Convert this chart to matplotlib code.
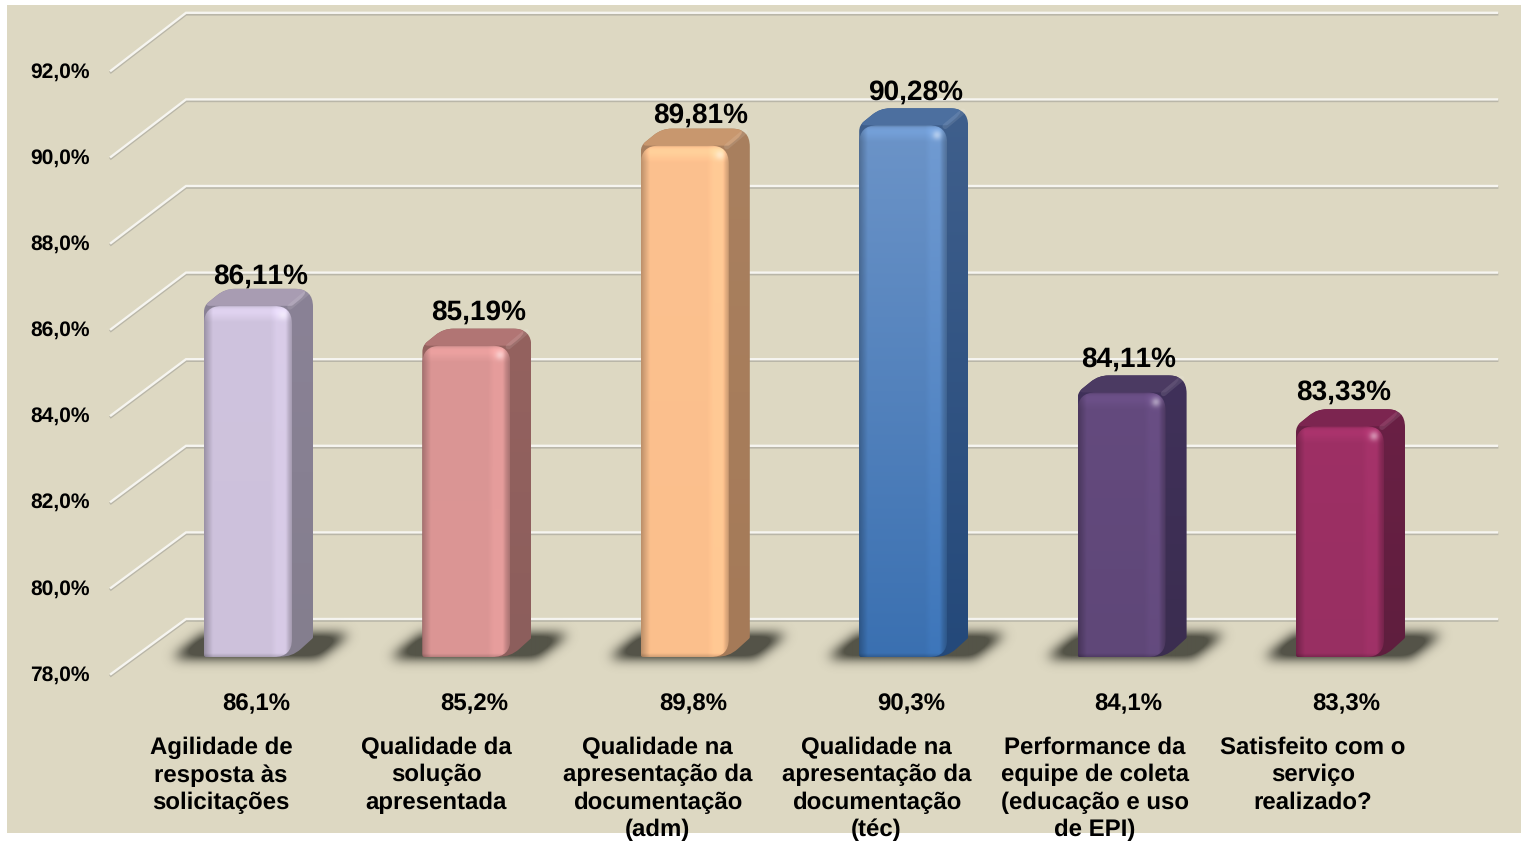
import numpy as np
import matplotlib
matplotlib.use("Agg")
import matplotlib.pyplot as plt
from matplotlib.path import Path
from matplotlib.patches import PathPatch, Rectangle
from matplotlib.colors import to_rgb

# ---- data ----
categories = [
    "Agilidade de\nresposta às\nsolicitações",
    "Qualidade da\nsolução\napresentada",
    "Qualidade na\napresentação da\ndocumentação\n(adm)",
    "Qualidade na\napresentação da\ndocumentação\n(téc)",
    "Performance da\nequipe de coleta\n(educação e uso\nde EPI)",
    "Satisfeito com o\nserviço\nrealizado?",
]
values = [86.11, 85.19, 89.81, 90.28, 84.11, 83.33]
y_ticks = [78, 80, 82, 84, 86, 88, 90, 92]

# ---- style ----
front_top = ["#CFC3DE", "#DA9594", "#FCC18F", "#6C94C8", "#644A7E", "#9E3065"]
front_bot = ["#CDC1DB", "#DC9695", "#FBBF8C", "#3A70B1", "#5F4778", "#982F62"]
side_top = ["#8A8296", "#94625F", "#A9805F", "#3F5F8C", "#40315A", "#6A2045"]
side_bot = ["#847E8E", "#8C5E5C", "#A57A58", "#24497A", "#3B2D50", "#5F1E3E"]
top_col = ["#A89CB2", "#B17574", "#C8976E", "#4C6F9F", "#4B3A62", "#7C2550"]
BG = "#DDD8C2"
FONT = "Liberation Sans"
plt.rcParams["text.hinting"] = "no_hinting"
plt.rcParams["text.hinting_factor"] = 1
plt.rcParams["text.kerning_factor"] = 6

W, H = 1521, 841
BAR_W, DEP_X, DEP_Y = 88, 21, 17
PITCH, CX0 = 218.4, 248.0
PXU, Y0PX = 43.3, 657.0   # pixels per percent point, pixel row of 78 %

# label placement, in pixels
top_dx = [13, 12, 16, 12, 7, 4]
top_dy = [29.4, 33.3, 30.2, 32.9, 33.0, 33.8]
low_dx = [8, 8, 8, 8, 7, 6]
cat_dx = [-27, -30, -27, -27, -27, -27]

fig = plt.figure(figsize=(W / 100, H / 100), dpi=100, facecolor="white")
ax = fig.add_axes([0, 0, 1, 1])
ax.axis("off")
XL = ((0 - CX0) / PITCH, (W - CX0) / PITCH)
YL = (78 - (H - Y0PX) / PXU, 78 + Y0PX / PXU)
px, py = 1 / PITCH, 1 / PXU  # one pixel in data units
fx = lambda p: (p - CX0) * px
fy = lambda p: 78 + (Y0PX - p) * py

ax.add_patch(Rectangle((fx(7), fy(833)), (W - 7) * px, 828 * py, fc=BG, ec="none", zorder=0))

# ---- walls' grid ----
FRONT_DX, BACK_DX, RIGHT_DX = 111, 186, 1497
for v in y_ticks:
    xs = [fx(FRONT_DX), fx(BACK_DX), fx(RIGHT_DX)]
    yf = fy(674 - (v - 78) * 43.1)
    yb = v + 38 * py
    ys = np.array([yf, yb, yb])
    ax.plot(xs, ys - 1.4 * py, color="#B9B6A8", lw=2.0, zorder=1, solid_joinstyle="miter")
    ax.plot(xs, ys, color="#F6F5F0", lw=1.7, zorder=2, solid_joinstyle="miter")
    ax.text(fx(90), fy(675 - (v - 78) * 43.07), f"{v:.1f}%".replace(".", ","), ha="right", va="center",
            fontsize=15.3, fontweight="bold", family=FONT, color="#000000", zorder=8)


def rounded(points, radii, x0, y0):
    """Rounded closed polygon; points are pixel offsets from a data anchor."""
    pts = np.array(points, float)
    n = len(pts)
    verts, codes = [], []
    for k in range(n):
        p, a, b = pts[k], pts[k - 1], pts[(k + 1) % n]
        r = radii[k]
        d1 = (a - p) / np.hypot(*(a - p))
        d2 = (b - p) / np.hypot(*(b - p))
        s, e = p + d1 * r, p + d2 * r
        verts.append(s)
        codes.append(Path.MOVETO if k == 0 else Path.LINETO)
        verts += [p, e]
        codes += [Path.CURVE3, Path.CURVE3]
    verts.append(verts[0])
    codes.append(Path.CLOSEPOLY)
    v = np.array(verts)
    return Path(np.c_[x0 + v[:, 0] * px, y0 + v[:, 1] * py], codes)


def blur(a, sigma):
    r = int(3 * sigma)
    k = np.exp(-0.5 * (np.arange(-r, r + 1) / sigma) ** 2)
    k /= k.sum()
    a = np.apply_along_axis(lambda m: np.convolve(m, k, mode="same"), 0, a)
    return np.apply_along_axis(lambda m: np.convolve(m, k, mode="same"), 1, a)


def ramp(t, a, b):
    return np.clip((t - a) / (b - a), 0, 1)


for i, (val, label) in enumerate(zip(values, categories)):
    x0 = i - BAR_W / 2 * px      # data x of front-left edge
    h = (val - 78) * PXU          # bar height in pixels

    # shadow on the floor
    gx = np.arange(-70, 185)
    gy = np.arange(-34, 60)
    X, Y = np.meshgrid(gx + 0.5, gy + 0.5)   # Y: pixels above the bar foot
    left = -33 + (Y + 2) * 1.3
    right = 113 + (Y + 2) * 1.3
    mask = ((Y > -1) & (Y < 23) & (X > left) & (X < right)).astype(float)
    al = np.clip(blur(mask, 6.0) * 1.35, 0, 0.9)
    rgba = np.zeros(al.shape + (4,))
    rgba[..., :3] = to_rgb("#45453A")
    rgba[..., 3] = al
    ax.imshow(rgba, origin="lower", aspect="auto", zorder=3, interpolation="bilinear",
              extent=(x0 + gx[0] * px, x0 + (gx[-1] + 1) * px, 78 + gy[0] * py, 78 + (gy[-1] + 1) * py))

    # side + top silhouette
    sil = [(0, 2), (0, h), (DEP_X, h + DEP_Y), (BAR_W + DEP_X, h + DEP_Y),
           (BAR_W + DEP_X, DEP_Y + 2), (BAR_W, 0)]
    sil_path = rounded(sil, [1, 6, 10, 18, 1, 12], x0, 78)
    t = np.linspace(0, 1, 64)[:, None, None]
    col = (1 - t) * np.array(to_rgb(side_top[i])) + t * np.array(to_rgb(side_bot[i]))
    im = ax.imshow(col, origin="upper", aspect="auto", zorder=4, interpolation="bilinear",
                   extent=(x0, x0 + (BAR_W + DEP_X) * px, 78, val + DEP_Y * py))
    im.set_clip_path(sil_path, transform=ax.transData)

    # top face
    top = [(0, h), (DEP_X, h + DEP_Y), (BAR_W + DEP_X, h + DEP_Y), (BAR_W, h)]
    ax.add_patch(PathPatch(rounded(top, [6, 10, 18, 1], x0, 78), fc=top_col[i], ec="none", zorder=5))
    # soft edge between top and side
    ax.plot([x0 + (BAR_W - 2) * px, x0 + (BAR_W + DEP_X - 5) * px],
            [val - 1 * py, val + (DEP_Y - 3) * py], color="white", alpha=0.10, lw=4, zorder=5.5,
            solid_capstyle="round")

    # front face, with bevel shading
    ss = 3
    nx, ny = BAR_W * ss, max(int(h * ss), 10)
    u = (np.arange(nx) + 0.5) / ss
    w = (np.arange(ny) + 0.5) / ss  # distance from top, px
    U, V = np.meshgrid(u, w)
    base = (V / h)[..., None] * np.array(to_rgb(front_bot[i])) + (1 - V / h)[..., None] * np.array(to_rgb(front_top[i]))
    m = np.ones_like(U)
    m *= 0.74 + 0.26 * ramp(U, 0, 9)                 # left bevel
    m *= 1 + 0.05 * ramp(U, 66, 72) * (1 - ramp(U, 80, 84))   # right light band
    m *= 1 - 0.24 * ramp(U, 81, 88)                  # right rim
    m *= 1 + 0.08 * ramp(V, 1, 5) * (1 - ramp(V, 8, 17))   # top light band
    m *= 0.85 + 0.15 * ramp(V, 0, 2.5)
    m *= 1 - 0.18 * ramp(V, h - 4, h)               # foot
    img = np.clip(base * m[..., None], 0, 1)
    glow = np.exp(-((U - 78) ** 2 + (V - 10) ** 2) / (2 * 3.2 ** 2))[..., None] * 0.42
    img = img * (1 - glow) + glow
    fr = [(0, 0), (0, h), (BAR_W, h), (BAR_W, 0)]
    fr_path = rounded(fr, [2, 18, 18, 18], x0, 78)
    im = ax.imshow(img, origin="upper", aspect="auto", zorder=6, interpolation="bilinear",
                   extent=(x0, x0 + BAR_W * px, 78, val))
    im.set_clip_path(fr_path, transform=ax.transData)

    # labels
    ax.text(i + top_dx[i] * px, val + top_dy[i] * py, f"{val:.2f}%".replace(".", ","), ha="center", va="center",
            fontsize=20.4, fontweight="bold", family=FONT, color="#000000", zorder=9)
    ax.text(i + low_dx[i] * px, 78 - 47.5 * py, f"{val:.1f}%".replace(".", ","), ha="center", va="center",
            fontsize=17.3, fontweight="bold", family=FONT, color="#000000", zorder=9)
    ax.text(i + cat_dx[i] * px, 78 - 79.5 * py, label, ha="center", va="top", linespacing=1.285,
            fontsize=17.3, fontweight="bold", family=FONT, color="#000000", zorder=9)

ax.set_xlim(*XL)
ax.set_ylim(*YL)
fig.savefig("out.png", dpi=100, facecolor="white")
